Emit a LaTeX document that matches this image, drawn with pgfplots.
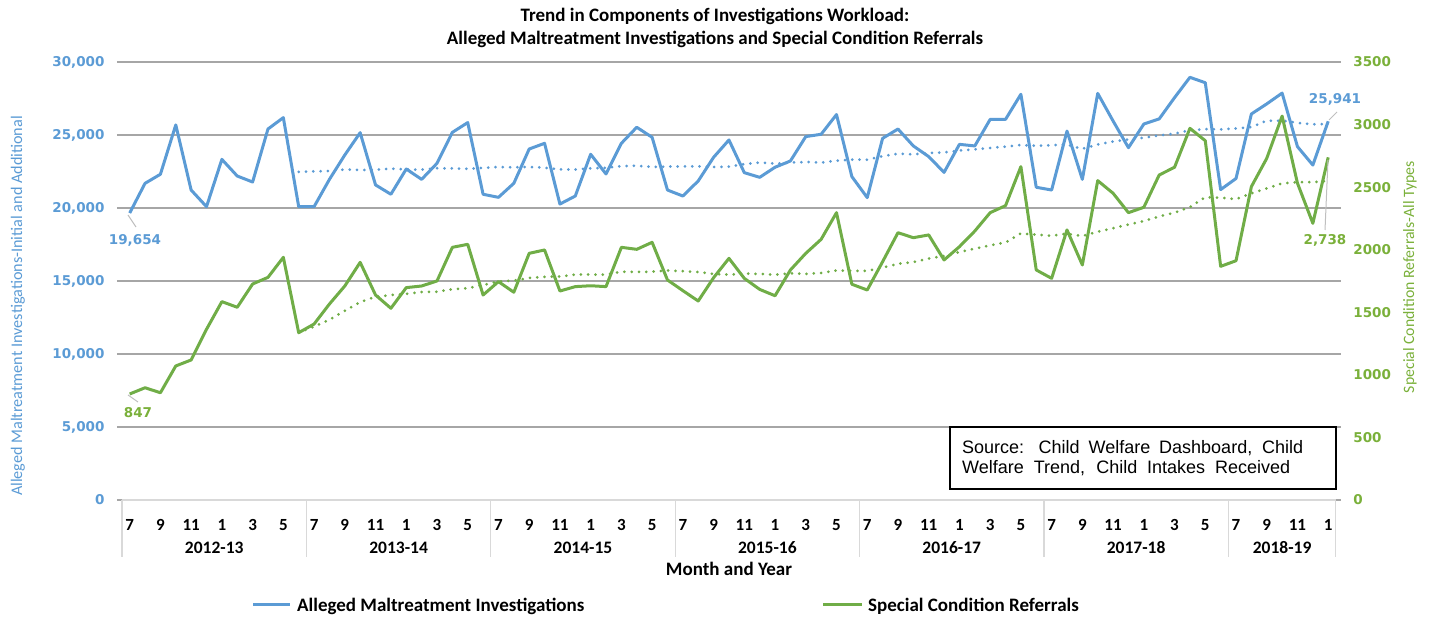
\documentclass[border=0pt]{standalone}
\usepackage{fontspec}
\setmainfont{Carlito}
\newfontfamily\dvs{DejaVu Sans}
\newfontfamily\arl{Liberation Sans}
\usepackage{pgfplots}
\pgfplotsset{compat=1.18}
\usepackage{pgfplotstable}

\definecolor{cblue}{HTML}{5B9BD5}
\definecolor{cgreen}{HTML}{70AD47}
\definecolor{tgreen}{HTML}{7AB03A}
\definecolor{gridc}{HTML}{A6A6A6}
\definecolor{sepc}{HTML}{D9D9D9}

\newcommand\tnf{\dvs\bfseries\fontsize{13.5}{16}\selectfont}
\newcommand\fsz[1]{\fontsize{#1}{#1}\selectfont}

% monthly values, Jul 2012 .. Jan 2019
\pgfplotstableread{
x inv ref
0 19654 847
1 21690 897
2 22310 857
3 25690 1071
4 21230 1119
5 20090 1364
6 23330 1585
7 22190 1540
8 21780 1726
9 25410 1779
10 26190 1939
11 20090 1337
12 20090 1406
13 21960 1566
14 23630 1710
15 25160 1899
16 21580 1638
17 20940 1532
18 22670 1697
19 21960 1710
20 23060 1750
21 25180 2019
22 25850 2043
23 20940 1638
24 20730 1745
25 21690 1660
26 24040 1971
27 24430 1998
28 20270 1670
29 20820 1705
30 23680 1712
31 22330 1705
32 24430 2019
33 25530 2003
34 24840 2059
35 21230 1758
36 20820 1673
37 21850 1590
38 23470 1776
39 24660 1931
40 22420 1771
41 22100 1683
42 22790 1632
43 23220 1838
44 24890 1971
45 25050 2083
46 26400 2296
47 22150 1724
48 20710 1678
49 24770 1904
50 25410 2136
51 24250 2096
52 23520 2118
53 22440 1918
54 24360 2024
55 24250 2149
56 26070 2296
57 26070 2352
58 27790 2664
59 21420 1838
60 21230 1771
61 25270 2158
62 21960 1878
63 27850 2552
64 25960 2451
65 24130 2296
66 25750 2339
67 26100 2597
68 27560 2659
69 28950 2970
70 28580 2871
71 21260 1867
72 22020 1912
73 26440 2504
74 27130 2730
75 27870 3068
76 24200 2531
77 22940 2211
78 25941 2738
}\datatab

% 12-month moving-average trend lines
\pgfplotstableread{
x invma refma
11 22471 1338
12 22508 1385
13 22530 1441
14 22640 1512
15 22596 1581
16 22625 1624
17 22696 1638
18 22641 1647
19 22622 1662
20 22728 1664
21 22709 1684
22 22681 1692
23 22752 1717
24 22805 1746
25 22783 1753
26 22817 1775
27 22756 1783
28 22647 1786
29 22637 1801
30 22721 1802
31 22752 1801
32 22866 1824
33 22895 1822
34 22811 1824
35 22835 1834
36 22843 1828
37 22856 1822
38 22808 1806
39 22828 1800
40 23007 1809
41 23113 1807
42 23039 1800
43 23113 1811
44 23152 1807
45 23112 1814
46 23242 1834
47 23318 1831
48 23309 1831
49 23553 1857
50 23714 1887
51 23680 1901
52 23772 1930
53 23800 1950
54 23931 1982
55 24017 2008
56 24115 2035
57 24200 2058
58 24316 2130
59 24255 2120
60 24298 2112
61 24340 2127
62 24053 2110
63 24353 2143
64 24556 2171
65 24697 2202
66 24813 2229
67 24967 2266
68 25091 2296
69 25331 2340
70 25397 2420
71 25383 2415
72 25449 2405
73 25547 2450
74 25978 2490
75 25979 2530
76 25833 2540
77 25733 2540
78 25749 2550
}\trendtab

\begin{document}
\begin{tikzpicture}
\useasboundingbox (-122pt,-117pt) rectangle (1310pt,500pt);

\begin{axis}[
  at={(0,0)}, anchor=south west,
  scale only axis, width=1214pt, height=438pt,
  xmin=-0.5, xmax=78.5, ymin=0, ymax=30000,
  clip=false,
  axis line style={draw=none},
  ytick={0,5000,...,30000},
  ymajorgrids, major grid style={gridc, line width=1.3pt},
  scaled y ticks=false,
  /pgf/number format/1000 sep={,},
  /pgf/number format/assume math mode=true,
  ytick style={gridc, line width=1.3pt}, tick align=outside, major tick length=5pt,
  yticklabel style={font=\tnf, text=cblue, anchor=east, xshift=-9pt},
  xtick={0,2,...,78},
  xticklabels={7,9,11,1,3,5,7,9,11,1,3,5,7,9,11,1,3,5,7,9,11,1,3,5,7,9,11,1,3,5,7,9,11,1,3,5,7,9,11,1},
  xtick style={draw=none},
  xticklabel style={font=\bfseries\fsz{17}, text=black, anchor=base, yshift=-25.5pt},
]
\addplot[cblue, line width=3pt, line join=round] table[x=x, y=inv] \datatab;
\addplot[cblue, line width=3pt, line cap=round, dash pattern=on 0pt off 7.3pt] table[x=x, y=invma] \trendtab;
\draw[sepc, line width=1.3pt] (axis cs:-0.5,0) -- (axis cs:78.5,0);
\pgfplotsinvokeforeach{-0.5,11.5,23.5,35.5,47.5,59.5,71.5,78.5}{
  \draw[sepc, line width=1.2pt] (axis cs:#1,0) -- ([yshift=-57pt]axis cs:#1,0);
}
\node[anchor=base, font=\bfseries\fsz{17.5}] at ([yshift=-53.5pt]axis cs:5.5,0) {2012-13};
\node[anchor=base, font=\bfseries\fsz{17.5}] at ([yshift=-53.5pt]axis cs:17.5,0) {2013-14};
\node[anchor=base, font=\bfseries\fsz{17.5}] at ([yshift=-53.5pt]axis cs:29.5,0) {2014-15};
\node[anchor=base, font=\bfseries\fsz{17.5}] at ([yshift=-53.5pt]axis cs:41.5,0) {2015-16};
\node[anchor=base, font=\bfseries\fsz{17.5}] at ([yshift=-53.5pt]axis cs:53.5,0) {2016-17};
\node[anchor=base, font=\bfseries\fsz{17.5}] at ([yshift=-53.5pt]axis cs:65.5,0) {2017-18};
\node[anchor=base, font=\bfseries\fsz{17.5}] at ([yshift=-53.5pt]axis cs:75,0) {2018-19};
\end{axis}

\begin{axis}[
  at={(0,0)}, anchor=south west,
  scale only axis, width=1214pt, height=438pt,
  xmin=-0.5, xmax=78.5, ymin=0, ymax=3500,
  hide x axis,
  axis y line*=right, axis line style={draw=none},
  ytick={0,500,...,3500}, ytick style={draw=none},
  /pgf/number format/1000 sep={},
  /pgf/number format/assume math mode=true,
  yticklabel style={font=\tnf, text=tgreen, anchor=west, xshift=14pt},
]
\addplot[cgreen, line width=3pt, line join=round] table[x=x, y=ref] \datatab;
\addplot[cgreen, line width=3pt, line cap=round, dash pattern=on 0pt off 7.3pt] table[x=x, y=refma] \trendtab;
\end{axis}

% titles
\node[anchor=base, font=\bfseries\fsz{19}] at (593pt,478pt) {Trend in Components of Investigations Workload:};
\node[anchor=base, font=\bfseries\fsz{19}] at (593pt,455pt) {Alleged Maltreatment Investigations and Special Condition Referrals};
\node[anchor=base, font=\bfseries\fsz{19}] at (607pt,-76pt) {Month and Year};
\node[rotate=90, font=\fsz{16.2}, text=cblue] at (-104pt,194pt) {Alleged Maltreatment Investigations-Initial and Additional};
\node[rotate=90, font=\fsz{15.8}, text=tgreen] at (1288pt,223pt) {Special Condition Referrals-All Types};

% data labels
\draw[gray!50, line width=1pt] (6pt,285pt) -- (14pt,273pt);
\node[font=\tnf, text=cblue] at (13pt,260pt) {19,654};
\draw[gray!50, line width=1pt] (6pt,105pt) -- (16pt,98pt);
\node[font=\tnf, text=tgreen] at (16pt,87pt) {847};
\draw[gray!50, line width=1pt] (1207pt,380pt) -- (1215pt,388pt);
\node[font=\tnf, text=cblue] at (1213pt,401pt) {25,941};
\draw[gray!50, line width=1pt] (1206pt,340pt) -- (1203pt,270pt);
\node[font=\tnf, text=tgreen] at (1203pt,260pt) {2,738};

% source box
\draw[black, line width=1.3pt] (828pt,11pt) rectangle (1214pt,73pt);
\node[anchor=base west, inner sep=0pt, font=\arl\fsz{18}] at (840pt,46pt) {\makebox[341pt][s]{Source: Child Welfare Dashboard, Child}};
\node[anchor=base west, inner sep=0pt, font=\arl\fsz{18}] at (840pt,26pt) {\makebox[328pt][s]{Welfare Trend, Child Intakes Received}};

% legend
\draw[cblue, line width=3pt] (131pt,-105pt) -- (168pt,-105pt);
\node[anchor=base west, inner sep=0pt, font=\bfseries\fsz{19}] at (175pt,-111.5pt) {Alleged Maltreatment Investigations};
\draw[cgreen, line width=3pt] (701pt,-105pt) -- (740pt,-105pt);
\node[anchor=base west, inner sep=0pt, font=\bfseries\fsz{19}] at (746pt,-111.5pt) {Special Condition Referrals};
\end{tikzpicture}
\end{document}
